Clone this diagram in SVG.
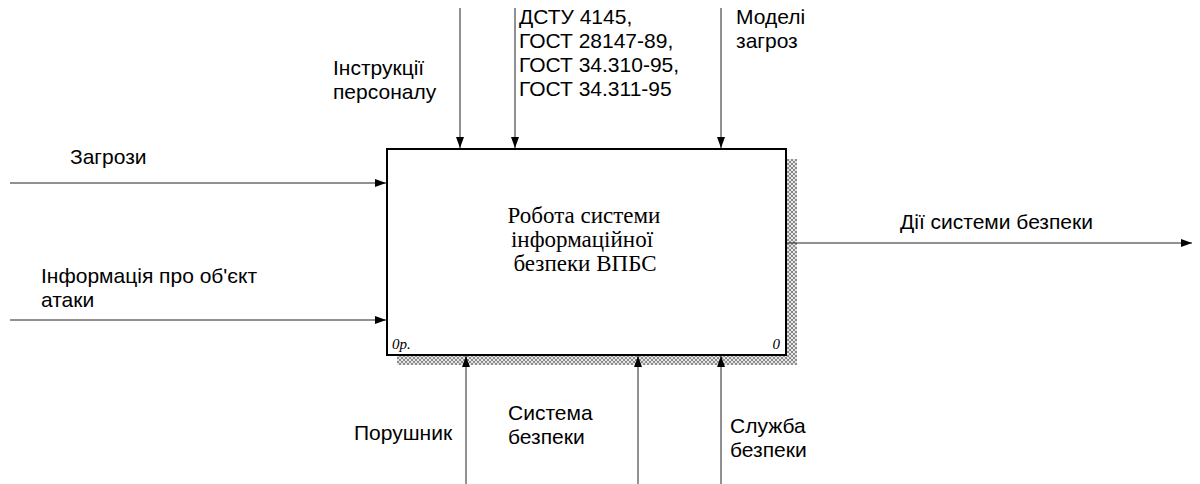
<svg xmlns="http://www.w3.org/2000/svg" width="1200" height="484" viewBox="0 0 1200 484">
<defs>
<marker id="ah" viewBox="0 0 11 8" refX="11" refY="4" markerWidth="11" markerHeight="8" markerUnits="userSpaceOnUse" orient="auto"><path d="M0,0 L11,4 L0,8 Z" fill="#000"/></marker>
<pattern id="hatch" width="4" height="4" patternUnits="userSpaceOnUse"><rect width="4" height="4" fill="#e4e4e4"/><path d="M0,0 L4,4 M4,0 L0,4" stroke="#777" stroke-width="0.8"/></pattern>
</defs>
<style>
.lbl{font-family:"Liberation Sans",Arial,sans-serif;font-size:21px;fill:#000}
.ttl{font-family:"Liberation Serif","Times New Roman",serif;font-size:23px;fill:#000}
.num{font-family:"Liberation Serif","Times New Roman",serif;font-style:italic;font-size:15px;fill:#000}
.c{stroke:#222;stroke-width:1;fill:none;marker-end:url(#ah)}
</style>
<rect x="0" y="0" width="1200" height="484" fill="#fff"/>
<g id="node-A0">
<rect x="397" y="159" width="400" height="206" fill="url(#hatch)"/>
<rect x="387" y="149" width="399" height="206" fill="#fff" stroke="#000" stroke-width="2"/>
<text class="ttl" text-anchor="middle"><tspan x="584" y="223">Робота системи</tspan><tspan x="582" y="247">інформаційної</tspan><tspan x="585" y="271">безпеки ВПБС</tspan></text>
<text class="num" x="392" y="349">0р.</text>
<text class="num" x="780" y="349" text-anchor="end">0</text>
</g>
<g id="connectors">
<line class="c" x1="10" y1="183" x2="386" y2="183"/>
<line class="c" x1="10" y1="320" x2="386" y2="320"/>
<line class="c" x1="460" y1="8" x2="460" y2="148"/>
<line class="c" x1="515" y1="8" x2="515" y2="148"/>
<line class="c" x1="721" y1="8" x2="721" y2="148"/>
<line class="c" x1="466" y1="484" x2="466" y2="356"/>
<line class="c" x1="638" y1="484" x2="638" y2="356"/>
<line class="c" x1="721" y1="484" x2="721" y2="356"/>
<line class="c" x1="787" y1="243" x2="1192" y2="243"/>
</g>
<g id="labels">
<text class="lbl" x="70" y="164">Загрози</text>
<text class="lbl"><tspan x="41" y="283">Інформація про об'єкт</tspan><tspan x="41" y="307">атаки</tspan></text>
<text class="lbl"><tspan x="333" y="75">Інструкції</tspan><tspan x="333" y="99">персоналу</tspan></text>
<text class="lbl"><tspan x="519" y="24">ДСТУ 4145,</tspan><tspan x="519" y="48">ГОСТ 28147-89,</tspan><tspan x="519" y="72">ГОСТ 34.310-95,</tspan><tspan x="519" y="96">ГОСТ 34.311-95</tspan></text>
<text class="lbl"><tspan x="736" y="24">Моделі</tspan><tspan x="736" y="48">загроз</tspan></text>
<text class="lbl" x="900" y="229">Дії системи безпеки</text>
<text class="lbl" x="354" y="440">Порушник</text>
<text class="lbl"><tspan x="508" y="420">Система</tspan><tspan x="508" y="444">безпеки</tspan></text>
<text class="lbl"><tspan x="730" y="433">Служба</tspan><tspan x="730" y="457">безпеки</tspan></text>
</g>
</svg>
